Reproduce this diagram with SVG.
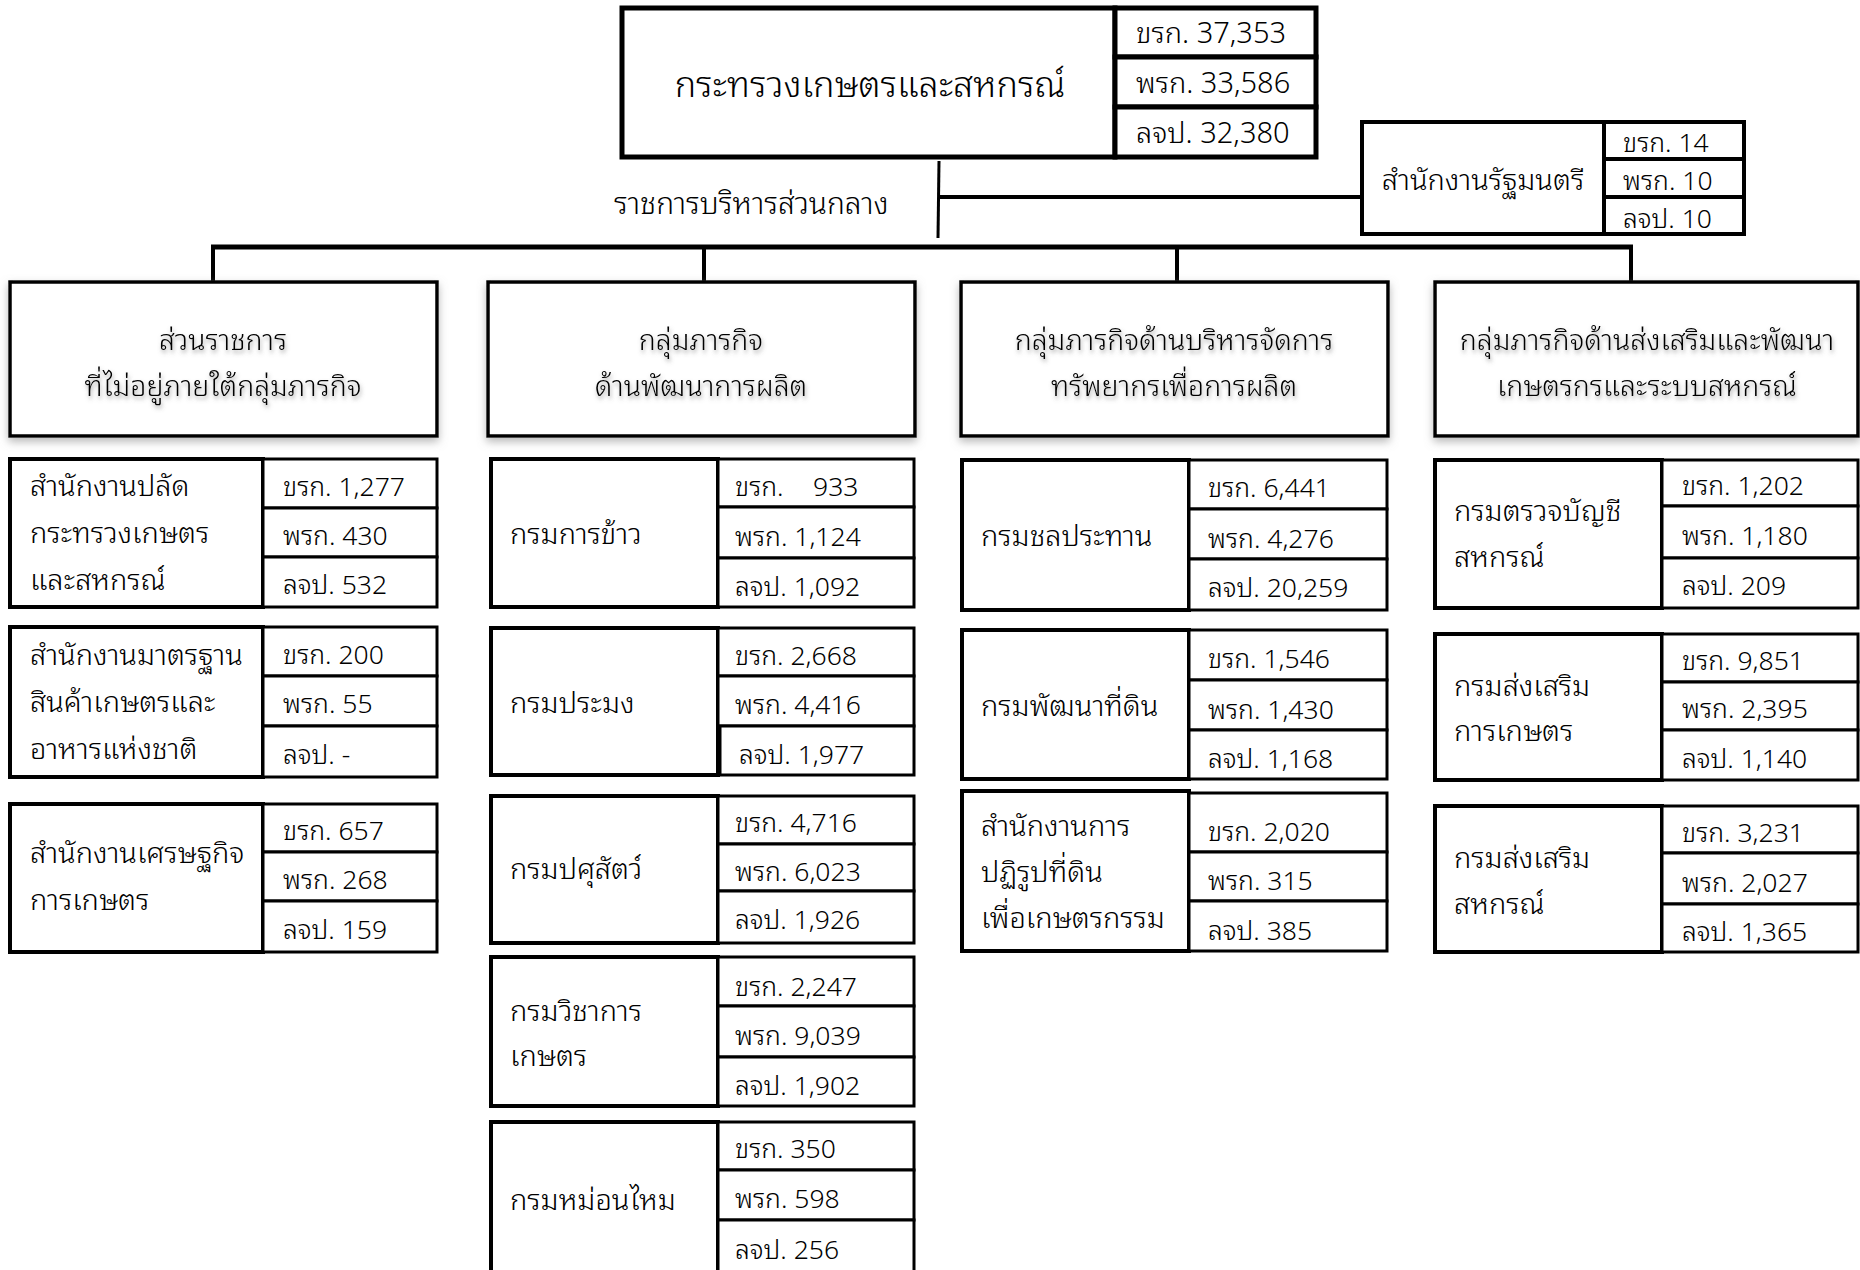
<svg xmlns="http://www.w3.org/2000/svg" width="1860" height="1270" viewBox="0 0 1860 1270">
<defs>
<style>
.b{fill:#fff;stroke:#000;stroke-width:4}
.bt{fill:#fff;stroke:#000;stroke-width:5}
.n{fill:#fff;stroke:#000;stroke-width:3}
.h{fill:#fff;stroke:#000;stroke-width:3.5;filter:url(#sh)}
.c{stroke:#000;fill:none}
text{font-family:"Noto Sans Thai Looped","Noto Serif Thai","Sarabun","TH Sarabun New",Garuda,Loma,"Noto Sans Thai","Leelawadee UI",Tahoma,"DejaVu Sans",sans-serif;fill:#000;font-weight:300}
.top{font-size:36px;text-anchor:middle}
.tn{font-size:29px}
.lb{font-size:30px}
.nm{font-size:29px}
.v{font-size:26.5px}
.ht{font-size:28.5px;text-anchor:middle;filter:url(#ts)}
</style>
<filter id="sh" x="-5%" y="-10%" width="110%" height="130%">
<feGaussianBlur in="SourceAlpha" stdDeviation="4"/>
<feOffset dy="4" result="o"/>
<feFlood flood-color="#8a8a8a" flood-opacity="0.6"/>
<feComposite in2="o" operator="in"/>
<feMerge><feMergeNode/><feMergeNode in="SourceGraphic"/></feMerge>
</filter>
<filter id="ts" x="-5%" y="-20%" width="110%" height="150%">
<feGaussianBlur in="SourceAlpha" stdDeviation="2"/>
<feOffset dx="1" dy="3" result="o"/>
<feFlood flood-color="#666" flood-opacity="0.6"/>
<feComposite in2="o" operator="in"/>
<feMerge><feMergeNode/><feMergeNode in="SourceGraphic"/></feMerge>
</filter>
</defs>
<rect width="1860" height="1270" fill="#fff"/>

<g id="connectors">
<line class="c" x1="939" y1="161" x2="938" y2="238" stroke-width="3"/>
<line class="c" x1="938" y1="197" x2="1362" y2="197" stroke-width="4"/>
<line class="c" x1="211" y1="247" x2="1633" y2="247" stroke-width="5"/>
<line class="c" x1="213" y1="247" x2="213" y2="281" stroke-width="4"/>
<line class="c" x1="704" y1="247" x2="704" y2="281" stroke-width="4"/>
<line class="c" x1="1177" y1="247" x2="1177" y2="281" stroke-width="4"/>
<line class="c" x1="1631" y1="247" x2="1631" y2="281" stroke-width="4"/>
</g>

<g id="ministry">
<rect class="bt" x="622" y="8" width="493" height="149"/>
<rect class="bt" x="1115" y="8" width="201" height="49"/>
<rect class="bt" x="1115" y="57" width="201" height="50"/>
<rect class="bt" x="1115" y="107" width="201" height="50"/>
<text class="top" x="870" y="97">กระทรวงเกษตรและสหกรณ์</text>
<text class="tn" x="1136" y="43">ขรก. 37,353</text>
<text class="tn" x="1136" y="93">พรก. 33,586</text>
<text class="tn" x="1136" y="143">ลจป. 32,380</text>
</g>

<g id="central-label">
<text class="lb" x="614" y="214">ราชการบริหารส่วนกลาง</text>
</g>

<g id="minister-office">
<rect class="b" x="1362" y="122" width="242" height="112"/>
<rect class="b" x="1604" y="122" width="140" height="37"/>
<rect class="b" x="1604" y="159" width="140" height="38"/>
<rect class="b" x="1604" y="197" width="140" height="37"/>
<text class="nm" x="1483" y="190" text-anchor="middle">สำนักงานรัฐมนตรี</text>
<text class="v" x="1623" y="152">ขรก. 14</text>
<text class="v" x="1623" y="190">พรก. 10</text>
<text class="v" x="1623" y="228">ลจป. 10</text>
</g>

<g id="group-1">
<rect class="h" x="10" y="282" width="427" height="154"/>
<text class="ht" x="223" y="350">ส่วนราชการ</text>
<text class="ht" x="223" y="396">ที่ไม่อยู่ภายใต้กลุ่มภารกิจ</text>
</g>
<g id="group-2">
<rect class="h" x="488" y="282" width="427" height="154"/>
<text class="ht" x="701" y="350">กลุ่มภารกิจ</text>
<text class="ht" x="701" y="396">ด้านพัฒนาการผลิต</text>
</g>
<g id="group-3">
<rect class="h" x="961" y="282" width="427" height="154"/>
<text class="ht" x="1174" y="350">กลุ่มภารกิจด้านบริหารจัดการ</text>
<text class="ht" x="1174" y="396">ทรัพยากรเพื่อการผลิต</text>
</g>
<g id="group-4">
<rect class="h" x="1435" y="282" width="423" height="154"/>
<text class="ht" x="1647" y="350">กลุ่มภารกิจด้านส่งเสริมและพัฒนา</text>
<text class="ht" x="1647" y="396">เกษตรกรและระบบสหกรณ์</text>
</g>

<g id="opsmoac">
<rect class="b" x="10" y="459" width="253" height="148"/>
<rect class="n" x="263" y="459" width="174" height="49"/>
<rect class="n" x="263" y="508" width="174" height="49"/>
<rect class="n" x="263" y="557" width="174" height="50"/>
<text class="nm" x="30" y="496">สำนักงานปลัด</text>
<text class="nm" x="30" y="543">กระทรวงเกษตร</text>
<text class="nm" x="30" y="590">และสหกรณ์</text>
<text class="v" x="283" y="496">ขรก. 1,277</text>
<text class="v" x="283" y="545">พรก. 430</text>
<text class="v" x="283" y="594">ลจป. 532</text>
</g>
<g id="acfs">
<rect class="b" x="10" y="627" width="253" height="150"/>
<rect class="n" x="263" y="627" width="174" height="49"/>
<rect class="n" x="263" y="676" width="174" height="50"/>
<rect class="n" x="263" y="726" width="174" height="51"/>
<text class="nm" x="30" y="665">สำนักงานมาตรฐาน</text>
<text class="nm" x="30" y="712">สินค้าเกษตรและ</text>
<text class="nm" x="30" y="759">อาหารแห่งชาติ</text>
<text class="v" x="283" y="664">ขรก. 200</text>
<text class="v" x="283" y="713">พรก. 55</text>
<text class="v" x="283" y="764">ลจป. -</text>
</g>
<g id="oae">
<rect class="b" x="10" y="804" width="253" height="148"/>
<rect class="n" x="263" y="804" width="174" height="48"/>
<rect class="n" x="263" y="852" width="174" height="49"/>
<rect class="n" x="263" y="901" width="174" height="51"/>
<text class="nm" x="30" y="863">สำนักงานเศรษฐกิจ</text>
<text class="nm" x="30" y="910">การเกษตร</text>
<text class="v" x="283" y="840">ขรก. 657</text>
<text class="v" x="283" y="889">พรก. 268</text>
<text class="v" x="283" y="939">ลจป. 159</text>
</g>

<g id="rice">
<rect class="b" x="491" y="459" width="227" height="148"/>
<rect class="n" x="718" y="459" width="196" height="48"/>
<rect class="n" x="718" y="507" width="196" height="51"/>
<rect class="n" x="718" y="558" width="196" height="49"/>
<text class="nm" x="510" y="544">กรมการข้าว</text>
<text class="v" x="735" y="496">ขรก.<tspan x="813">933</tspan></text>
<text class="v" x="735" y="546">พรก. 1,124</text>
<text class="v" x="735" y="596">ลจป. 1,092</text>
</g>
<g id="fisheries">
<rect class="b" x="491" y="628" width="227" height="147"/>
<rect class="n" x="718" y="628" width="196" height="48"/>
<rect class="n" x="718" y="676" width="196" height="50"/>
<rect class="n" x="720" y="726" width="194" height="49"/>
<text class="nm" x="510" y="713">กรมประมง</text>
<text class="v" x="735" y="665">ขรก. 2,668</text>
<text class="v" x="735" y="714">พรก. 4,416</text>
<text class="v" x="739" y="764">ลจป. 1,977</text>
</g>
<g id="livestock">
<rect class="b" x="491" y="796" width="227" height="147"/>
<rect class="n" x="718" y="796" width="196" height="48"/>
<rect class="n" x="718" y="844" width="196" height="47"/>
<rect class="n" x="718" y="891" width="196" height="52"/>
<text class="nm" x="510" y="879">กรมปศุสัตว์</text>
<text class="v" x="735" y="832">ขรก. 4,716</text>
<text class="v" x="735" y="881">พรก. 6,023</text>
<text class="v" x="735" y="929">ลจป. 1,926</text>
</g>
<g id="doa">
<rect class="b" x="491" y="957" width="227" height="149"/>
<rect class="n" x="718" y="957" width="196" height="49"/>
<rect class="n" x="718" y="1006" width="196" height="51"/>
<rect class="n" x="718" y="1057" width="196" height="49"/>
<text class="nm" x="510" y="1021">กรมวิชาการ</text>
<text class="nm" x="510" y="1066">เกษตร</text>
<text class="v" x="735" y="996">ขรก. 2,247</text>
<text class="v" x="735" y="1045">พรก. 9,039</text>
<text class="v" x="735" y="1095">ลจป. 1,902</text>
</g>
<g id="sericulture">
<rect class="b" x="491" y="1122" width="227" height="156"/>
<rect class="n" x="718" y="1122" width="196" height="48"/>
<rect class="n" x="718" y="1170" width="196" height="50"/>
<rect class="n" x="718" y="1220" width="196" height="58"/>
<text class="nm" x="510" y="1210">กรมหม่อนไหม</text>
<text class="v" x="735" y="1158">ขรก. 350</text>
<text class="v" x="735" y="1208">พรก. 598</text>
<text class="v" x="735" y="1259">ลจป. 256</text>
</g>

<g id="rid">
<rect class="b" x="962" y="460" width="227" height="150"/>
<rect class="n" x="1189" y="460" width="198" height="49"/>
<rect class="n" x="1189" y="509" width="198" height="50"/>
<rect class="n" x="1189" y="559" width="198" height="51"/>
<text class="nm" x="981" y="546">กรมชลประทาน</text>
<text class="v" x="1208" y="497">ขรก. 6,441</text>
<text class="v" x="1208" y="548">พรก. 4,276</text>
<text class="v" x="1208" y="597">ลจป. 20,259</text>
</g>
<g id="ldd">
<rect class="b" x="962" y="630" width="227" height="149"/>
<rect class="n" x="1189" y="630" width="198" height="50"/>
<rect class="n" x="1189" y="680" width="198" height="50"/>
<rect class="n" x="1189" y="730" width="198" height="49"/>
<text class="nm" x="981" y="716">กรมพัฒนาที่ดิน</text>
<text class="v" x="1208" y="668">ขรก. 1,546</text>
<text class="v" x="1208" y="719">พรก. 1,430</text>
<text class="v" x="1208" y="768">ลจป. 1,168</text>
</g>
<g id="alro">
<rect class="b" x="962" y="791" width="227" height="160"/>
<rect class="n" x="1189" y="793" width="198" height="59"/>
<rect class="n" x="1189" y="852" width="198" height="49"/>
<rect class="n" x="1189" y="901" width="198" height="50"/>
<text class="nm" x="981" y="836">สำนักงานการ</text>
<text class="nm" x="981" y="882">ปฏิรูปที่ดิน</text>
<text class="nm" x="981" y="928">เพื่อเกษตรกรรม</text>
<text class="v" x="1208" y="841">ขรก. 2,020</text>
<text class="v" x="1208" y="890">พรก. 315</text>
<text class="v" x="1208" y="940">ลจป. 385</text>
</g>

<g id="cad">
<rect class="b" x="1435" y="460" width="227" height="148"/>
<rect class="n" x="1662" y="460" width="196" height="46"/>
<rect class="n" x="1662" y="506" width="196" height="52"/>
<rect class="n" x="1662" y="558" width="196" height="50"/>
<text class="nm" x="1454" y="521">กรมตรวจบัญชี</text>
<text class="nm" x="1454" y="567">สหกรณ์</text>
<text class="v" x="1682" y="495">ขรก. 1,202</text>
<text class="v" x="1682" y="545">พรก. 1,180</text>
<text class="v" x="1682" y="595">ลจป. 209</text>
</g>
<g id="doae">
<rect class="b" x="1435" y="634" width="227" height="146"/>
<rect class="n" x="1662" y="634" width="196" height="48"/>
<rect class="n" x="1662" y="682" width="196" height="48"/>
<rect class="n" x="1662" y="730" width="196" height="50"/>
<text class="nm" x="1454" y="696">กรมส่งเสริม</text>
<text class="nm" x="1454" y="741">การเกษตร</text>
<text class="v" x="1682" y="670">ขรก. 9,851</text>
<text class="v" x="1682" y="718">พรก. 2,395</text>
<text class="v" x="1682" y="768">ลจป. 1,140</text>
</g>
<g id="cpd">
<rect class="b" x="1435" y="806" width="227" height="146"/>
<rect class="n" x="1662" y="806" width="196" height="47"/>
<rect class="n" x="1662" y="853" width="196" height="51"/>
<rect class="n" x="1662" y="904" width="196" height="48"/>
<text class="nm" x="1454" y="868">กรมส่งเสริม</text>
<text class="nm" x="1454" y="914">สหกรณ์</text>
<text class="v" x="1682" y="842">ขรก. 3,231</text>
<text class="v" x="1682" y="892">พรก. 2,027</text>
<text class="v" x="1682" y="941">ลจป. 1,365</text>
</g>
</svg>
